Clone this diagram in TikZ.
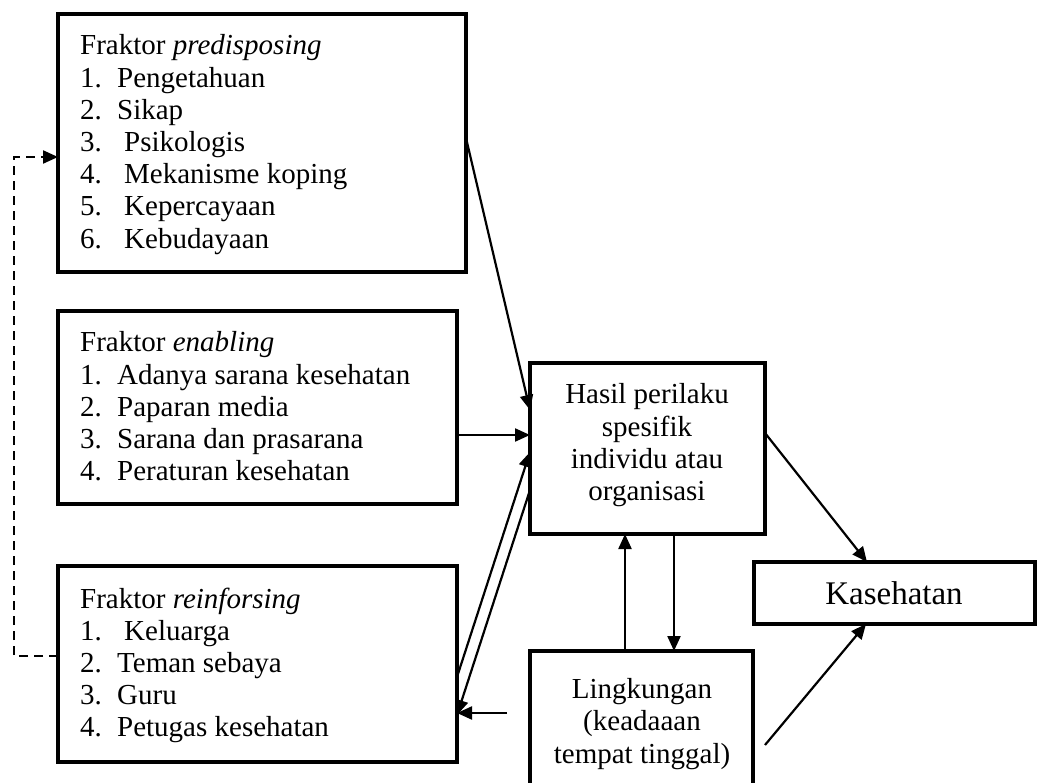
\documentclass[tikz,border=0pt]{standalone}
\usepackage{fontspec}
\setmainfont{Liberation Serif}
\usetikzlibrary{arrows.meta}
\begin{document}
\begin{tikzpicture}[x=1pt,y=-1pt,
  box/.style={draw,line width=3.2pt,anchor=north west,inner sep=0pt,outer sep=0pt},
  txt/.style={anchor=base west,inner sep=0pt,font=\fontsize{29}{32}\selectfont},
  ctxt/.style={anchor=base,inner sep=0pt,font=\fontsize{29}{32}\selectfont},
  arr/.style={line width=2.2pt,-{Triangle[length=15pt,width=13pt]}},
  ln/.style={line width=2.2pt},
  dsh/.style={line width=2.2pt,dash pattern=on 9pt off 6pt,-{Triangle[length=15pt,width=13pt]}}]
\useasboundingbox (0,0) rectangle (1039,783);
% boxes
\node[box,minimum width=408pt,minimum height=258pt] (b1) at (58,14) {};
\node[box,minimum width=399pt,minimum height=193pt] (b2) at (58,311) {};
\node[box,minimum width=399pt,minimum height=196pt] (b3) at (58,566) {};
\node[box,minimum width=235pt,minimum height=171pt] (hs) at (530,363) {};
\node[box,minimum width=223pt,minimum height=150pt] (lk) at (530,651) {};
\node[box,minimum width=281pt,minimum height=62pt] (ks) at (754,562) {};
% box 1 text
\foreach \t [count=\i] in {{Fraktor \textit{predisposing}},{\makebox[37pt][l]{1.}Pengetahuan},{\makebox[37pt][l]{2.}Sikap},{\makebox[44pt][l]{3.}Psikologis},{\makebox[44pt][l]{4.}Mekanisme koping},{\makebox[44pt][l]{5.}Kepercayaan},{\makebox[44pt][l]{6.}Kebudayaan}}
  \node[txt] (pa\i) at (80,{55+32.2*(\i-1)}) {\t};
% box 2 text
\foreach \t [count=\i] in {{Fraktor \textit{enabling}},{\makebox[37pt][l]{1.}Adanya sarana kesehatan},{\makebox[37pt][l]{2.}Paparan media},{\makebox[37pt][l]{3.}Sarana dan prasarana},{\makebox[37pt][l]{4.}Peraturan kesehatan}}
  \node[txt] (en\i) at (80,{352+32.2*(\i-1)}) {\t};
% box 3 text
\foreach \t [count=\i] in {{Fraktor \textit{reinforsing}},{\makebox[44pt][l]{1.}Keluarga},{\makebox[37pt][l]{2.}Teman sebaya},{\makebox[37pt][l]{3.}Guru},{\makebox[37pt][l]{4.}Petugas kesehatan}}
  \node[txt] (re\i) at (80,{608+32.2*(\i-1)}) {\t};
% hasil text
\foreach \t [count=\i] in {{Hasil perilaku},{spesifik},{individu atau},{organisasi}}
  \node[ctxt] (hs\i) at (647,{404+32.2*(\i-1)}) {\t};
% lingkungan text
\foreach \t [count=\i] in {{Lingkungan},{(keadaaan},{tempat tinggal)}}
  \node[ctxt] (lk\i) at (642,{698+32.5*(\i-1)}) {\t};
\node[ctxt,font=\fontsize{33}{38}\selectfont] (kst) at (894,604) {Kasehatan};
% connectors
\draw[arr] (b1.east |- 0,138) -- (hs.west |- 0,410);
\draw[arr] (b2.east |- 0,435) -- (hs.west |- 0,435);
\draw[arr] (b3.east |- 0,677) -- (hs.west |- 0,452);
\draw[arr] (hs.west |- 0,490) -- (b3.east |- 0,715);
\coordinate (sa) at (507,713);
\draw[arr] (sa) -- (b3.east |- sa);
\draw[arr] (lk.north -| 625,0) -- (hs.south -| 625,0);
\draw[arr] (hs.south -| 674,0) -- (lk.north -| 674,0);
\draw[arr] (hs.east |- 0,433) -- (ks.north -| 867,0);
\coordinate (lo) at (765,745);
\draw[arr] (lo) -- (ks.south -| 866,0);
\draw[dsh] (b3.west |- 0,656) -| (14,157) -- (b1.west |- 0,157);
\end{tikzpicture}
\end{document}
